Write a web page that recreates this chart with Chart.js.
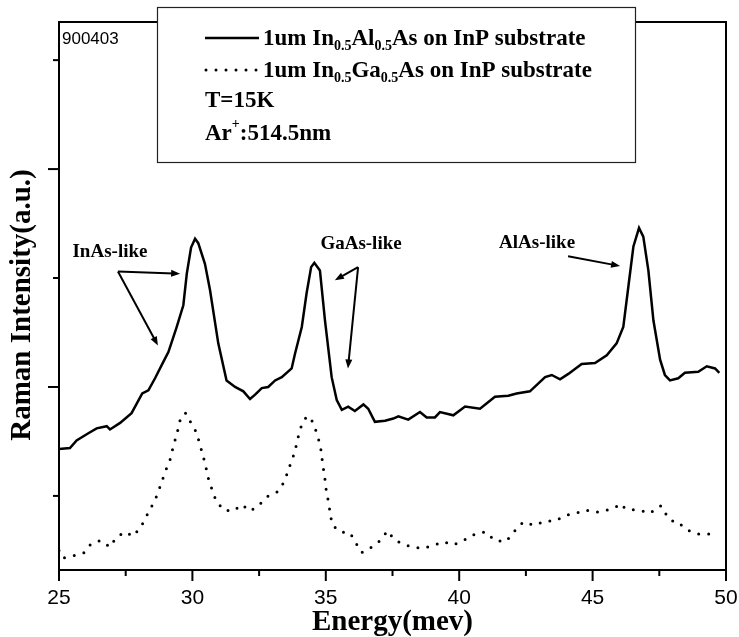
<!DOCTYPE html>
<html>
<head>
<meta charset="utf-8">
<script src="https://cdn.jsdelivr.net/npm/chart.js@4.4.1/dist/chart.umd.min.js"></script>
<style>
  html, body { margin: 0; padding: 0; background: #fff; }
  canvas { display: block; }
</style>
</head>
<body>
<canvas id="raman" width="739" height="637"></canvas>
<script>
// Raman spectra (energy in meV, intensity in a.u.)
const inAlAsEnergy = [25.0, 25.41, 25.66, 26.1, 26.41, 26.79, 26.91, 27.29, 27.72, 28.12, 28.35, 28.6, 28.91, 29.1, 29.41, 29.66, 29.79, 29.95, 30.1, 30.22, 30.47, 30.66, 30.97, 31.28, 31.6, 31.91, 32.16, 32.35, 32.6, 32.84, 33.1, 33.35, 33.72, 33.85, 34.1, 34.28, 34.45, 34.57, 34.78, 34.97, 35.22, 35.41, 35.6, 35.84, 36.09, 36.41, 36.59, 36.84, 37.22, 37.53, 37.72, 38.09, 38.53, 38.78, 39.09, 39.28, 39.78, 40.22, 40.78, 41.34, 41.84, 42.15, 42.65, 43.22, 43.47, 43.78, 44.09, 44.59, 45.09, 45.53, 45.9, 46.15, 46.34, 46.53, 46.74, 46.9, 47.09, 47.28, 47.53, 47.71, 47.9, 48.21, 48.46, 48.96, 49.28, 49.59, 49.75];
const inAlAsIntensity = [1.43, 1.44, 1.51, 1.575, 1.62, 1.64, 1.61, 1.67, 1.76, 1.94, 1.97, 2.08, 2.23, 2.32, 2.55, 2.75, 3.04, 3.28, 3.36, 3.32, 3.13, 2.89, 2.40, 2.06, 2.0, 1.96, 1.89, 1.93, 1.99, 2.0, 2.06, 2.09, 2.17, 2.31, 2.55, 2.86, 3.10, 3.14, 3.07, 2.61, 2.09, 1.88, 1.79, 1.82, 1.78, 1.84, 1.80, 1.68, 1.69, 1.71, 1.73, 1.70, 1.77, 1.72, 1.72, 1.77, 1.74, 1.82, 1.80, 1.91, 1.92, 1.94, 1.96, 2.09, 2.11, 2.07, 2.12, 2.21, 2.22, 2.29, 2.40, 2.55, 2.92, 3.29, 3.46, 3.38, 3.07, 2.61, 2.25, 2.11, 2.06, 2.08, 2.13, 2.14, 2.19, 2.17, 2.13];

const inGaAsEnergy = [25.0, 25.16, 25.54, 25.95, 26.2, 26.56, 26.91, 27.12, 27.45, 27.79, 28.1, 28.31, 28.53, 28.7, 28.85, 29.01, 29.16, 29.25, 29.37, 29.47, 29.57, 29.75, 29.95, 30.16, 30.28, 30.41, 30.5, 30.6, 30.72, 30.88, 31.16, 31.53, 31.85, 32.16, 32.47, 32.84, 33.2, 33.47, 33.59, 33.74, 33.87, 34.03, 34.22, 34.41, 34.6, 34.72, 34.82, 34.88, 34.97, 35.03, 35.12, 35.16, 35.26, 35.53, 35.91, 36.12, 36.35, 36.66, 36.99, 37.32, 37.53, 37.84, 38.28, 38.65, 39.07, 39.4, 39.78, 40.22, 40.59, 40.99, 41.34, 41.75, 42.09, 42.4, 42.81, 43.22, 43.59, 43.97, 44.37, 44.75, 45.15, 45.53, 45.88, 46.03, 46.24, 46.65, 46.9, 47.13, 47.4, 47.56, 47.81, 48.09, 48.25, 48.53, 48.96, 49.34, 49.71];
const inGaAsIntensity = [0.5, 0.43, 0.45, 0.48, 0.56, 0.59, 0.53, 0.61, 0.67, 0.63, 0.73, 0.83, 0.93, 1.02, 1.13, 1.24, 1.33, 1.42, 1.53, 1.62, 1.73, 1.76, 1.67, 1.58, 1.47, 1.36, 1.27, 1.16, 1.07, 0.96, 0.87, 0.86, 0.92, 0.86, 0.91, 1.0, 1.04, 1.14, 1.24, 1.33, 1.44, 1.61, 1.71, 1.73, 1.62, 1.53, 1.42, 1.30, 1.15, 1.02, 0.93, 0.83, 0.73, 0.67, 0.66, 0.57, 0.48, 0.52, 0.58, 0.68, 0.61, 0.56, 0.53, 0.52, 0.55, 0.58, 0.55, 0.60, 0.65, 0.67, 0.59, 0.58, 0.68, 0.76, 0.73, 0.77, 0.77, 0.82, 0.84, 0.87, 0.85, 0.87, 0.90, 0.93, 0.88, 0.87, 0.86, 0.84, 0.88, 0.91, 0.81, 0.75, 0.75, 0.69, 0.65, 0.65, 0.67];

const xTickValues = [25, 30, 35, 40, 45, 50];
const xMinorTicks = [27.5, 32.5, 37.5, 42.5, 47.5];
const yMajorTicks = [2, 4];
const yMinorTicks = [1, 3, 5];

const serifBold = '"Liberation Serif", "Times New Roman", serif';

// peak labels and their arrows, in data units
const peakNotes = [
    { text: 'InAs-like', x: 26.91, y: 3.24, arrows: [[27.21, 3.06, 29.54, 3.04], [27.21, 3.06, 28.71, 2.38]] },
    { text: 'GaAs-like', x: 36.32, y: 3.31, arrows: [[36.21, 3.10, 35.34, 2.98], [36.21, 3.10, 35.83, 2.17]] },
    { text: 'AlAs-like', x: 42.92, y: 3.32, arrows: [[44.08, 3.20, 46.03, 3.11]] }
];

function toPoints(xs, ys) {
    return xs.map((x, i) => ({ x: x, y: ys[i] }));
}

function arrow(ctx, x1, y1, x2, y2) {
    const a = Math.atan2(y2 - y1, x2 - x1);
    const len = 9, half = 3.5;
    ctx.beginPath();
    ctx.moveTo(x1, y1);
    ctx.lineTo(x2 - Math.cos(a) * len * 0.7, y2 - Math.sin(a) * len * 0.7);
    ctx.stroke();
    ctx.beginPath();
    ctx.moveTo(x2, y2);
    ctx.lineTo(x2 - Math.cos(a) * len - Math.sin(a) * half, y2 - Math.sin(a) * len + Math.cos(a) * half);
    ctx.lineTo(x2 - Math.cos(a) * len + Math.sin(a) * half, y2 - Math.sin(a) * len - Math.cos(a) * half);
    ctx.closePath();
    ctx.fill();
}

// text with subscript pieces: [[text, isSub], ...]
function richText(ctx, parts, x, y, size) {
    let cx = x;
    parts.forEach(p => {
        if (p[1]) {
            ctx.font = 'bold ' + Math.round(size * 0.6) + 'px ' + serifBold;
            ctx.fillText(p[0], cx, y + size * 0.32);
        } else {
            ctx.font = 'bold ' + size + 'px ' + serifBold;
            ctx.fillText(p[0], cx, y);
        }
        cx += ctx.measureText(p[0]).width;
    });
}

const decorations = {
    id: 'decorations',
    afterDatasetsDraw(chart) {
        const ctx = chart.ctx;
        const area = chart.chartArea;
        const xs = chart.scales.x, ys = chart.scales.y;
        ctx.save();
        ctx.strokeStyle = '#000';
        ctx.fillStyle = '#000';

        // frame
        ctx.lineWidth = 2;
        ctx.strokeRect(area.left, area.top, area.right - area.left, area.bottom - area.top);

        // ticks, pointing outwards
        xTickValues.forEach(v => {
            const px = xs.getPixelForValue(v);
            ctx.beginPath(); ctx.moveTo(px, area.bottom); ctx.lineTo(px, area.bottom + 11); ctx.stroke();
        });
        xMinorTicks.forEach(v => {
            const px = xs.getPixelForValue(v);
            ctx.beginPath(); ctx.moveTo(px, area.bottom); ctx.lineTo(px, area.bottom + 6); ctx.stroke();
        });
        yMajorTicks.forEach(v => {
            const py = ys.getPixelForValue(v);
            ctx.beginPath(); ctx.moveTo(area.left, py); ctx.lineTo(area.left - 11, py); ctx.stroke();
        });
        yMinorTicks.forEach(v => {
            const py = ys.getPixelForValue(v);
            ctx.beginPath(); ctx.moveTo(area.left, py); ctx.lineTo(area.left - 6, py); ctx.stroke();
        });

        // y axis title, sits a little below the middle of the plot in the original
        ctx.save();
        ctx.translate(23, 305);
        ctx.rotate(-Math.PI / 2);
        ctx.font = 'bold 29px ' + serifBold;
        ctx.textAlign = 'center';
        ctx.textBaseline = 'middle';
        ctx.fillText('Raman Intensity(a.u.)', 0, 0);
        ctx.restore();

        // sample id
        ctx.font = '17px "Liberation Sans", Arial, sans-serif';
        ctx.textBaseline = 'middle';
        ctx.textAlign = 'left';
        ctx.fillText('900403', area.left + 3, area.top + 17);

        // peak annotations
        ctx.font = 'bold 19px ' + serifBold;
        ctx.textAlign = 'center';
        ctx.lineWidth = 2;
        peakNotes.forEach(n => {
            ctx.fillText(n.text, xs.getPixelForValue(n.x), ys.getPixelForValue(n.y));
            n.arrows.forEach(a => arrow(ctx,
                xs.getPixelForValue(a[0]), ys.getPixelForValue(a[1]),
                xs.getPixelForValue(a[2]), ys.getPixelForValue(a[3])));
        });

        // legend box
        const bx = 157, by = 7, bw = 478, bh = 155;
        ctx.fillStyle = '#fff';
        ctx.fillRect(bx, by, bw, bh);
        ctx.lineWidth = 1.2;
        ctx.strokeStyle = '#222';
        ctx.strokeRect(bx + 0.5, by + 0.5, bw, bh);
        ctx.fillStyle = '#000';
        ctx.strokeStyle = '#000';

        ctx.lineWidth = 2.5;
        ctx.beginPath(); ctx.moveTo(205, 38); ctx.lineTo(259, 38); ctx.stroke();
        ctx.lineWidth = 3;
        ctx.lineCap = 'round';
        ctx.setLineDash([0, 10]);
        ctx.beginPath(); ctx.moveTo(206, 70); ctx.lineTo(259, 70); ctx.stroke();
        ctx.setLineDash([]);
        ctx.lineCap = 'butt';

        ctx.textAlign = 'left';
        ctx.textBaseline = 'middle';
        const fs = 23;
        richText(ctx, [['1um In', false], ['0.5', true], ['Al', false], ['0.5', true], ['As on InP substrate', false]], 263, 39, fs);
        richText(ctx, [['1um In', false], ['0.5', true], ['Ga', false], ['0.5', true], ['As on InP substrate', false]], 263, 71, fs);
        richText(ctx, [['T=15K', false]], 205, 101, fs);
        ctx.font = 'bold ' + fs + 'px ' + serifBold;
        ctx.fillText('Ar', 205, 134);
        const arW = ctx.measureText('Ar').width;
        ctx.font = 'bold 14px ' + serifBold;
        ctx.fillText('+', 205 + arW, 124);
        const plusW = ctx.measureText('+').width;
        ctx.font = 'bold ' + fs + 'px ' + serifBold;
        ctx.fillText(':514.5nm', 205 + arW + plusW, 134);

        ctx.restore();
    }
};

new Chart(document.getElementById('raman'), {
    type: 'scatter',
    data: {
        datasets: [
            {
                label: '1um In0.5Al0.5As on InP substrate',
                data: toPoints(inAlAsEnergy, inAlAsIntensity),
                showLine: true,
                borderColor: '#000',
                borderWidth: 2.5,
                pointRadius: 0,
                tension: 0
            },
            {
                label: '1um In0.5Ga0.5As on InP substrate',
                data: toPoints(inGaAsEnergy, inGaAsIntensity),
                showLine: true,
                borderColor: '#000',
                borderWidth: 3,
                borderDash: [0, 10],
                borderCapStyle: 'round',
                pointRadius: 0,
                tension: 0
            }
        ]
    },
    options: {
        responsive: false,
        animation: false,
        devicePixelRatio: 1,
        layout: { padding: { left: 0, right: 13, top: 22, bottom: 0 } },
        plugins: {
            legend: { display: false },
            tooltip: { enabled: false }
        },
        scales: {
            x: {
                type: 'linear',
                min: 25,
                max: 50,
                afterBuildTicks: s => { s.ticks = xTickValues.map(v => ({ value: v })); },
                afterFit: s => { s.height = 67; s.paddingLeft = 0; s.paddingRight = 0; },
                grid: { display: false, drawTicks: false, tickLength: 0 },
                border: { display: false },
                ticks: {
                    color: '#000',
                    padding: 16,
                    maxRotation: 0,
                    font: { family: '"Liberation Sans", Arial, sans-serif', size: 21 }
                },
                title: {
                    display: true,
                    text: 'Energy(mev)',
                    color: '#000',
                    padding: 0,
                    font: { family: serifBold, size: 29, weight: 'bold', lineHeight: 1 }
                }
            },
            y: {
                type: 'linear',
                min: 0.32,
                max: 5.35,
                afterBuildTicks: s => { s.ticks = yMajorTicks.map(v => ({ value: v })); },
                afterFit: s => { s.width = 59; s.paddingTop = 0; s.paddingBottom = 0; },
                grid: { display: false, drawTicks: false, tickLength: 0 },
                border: { display: false },
                ticks: { display: false }
            }
        }
    },
    plugins: [decorations]
});
</script>
</body>
</html>
